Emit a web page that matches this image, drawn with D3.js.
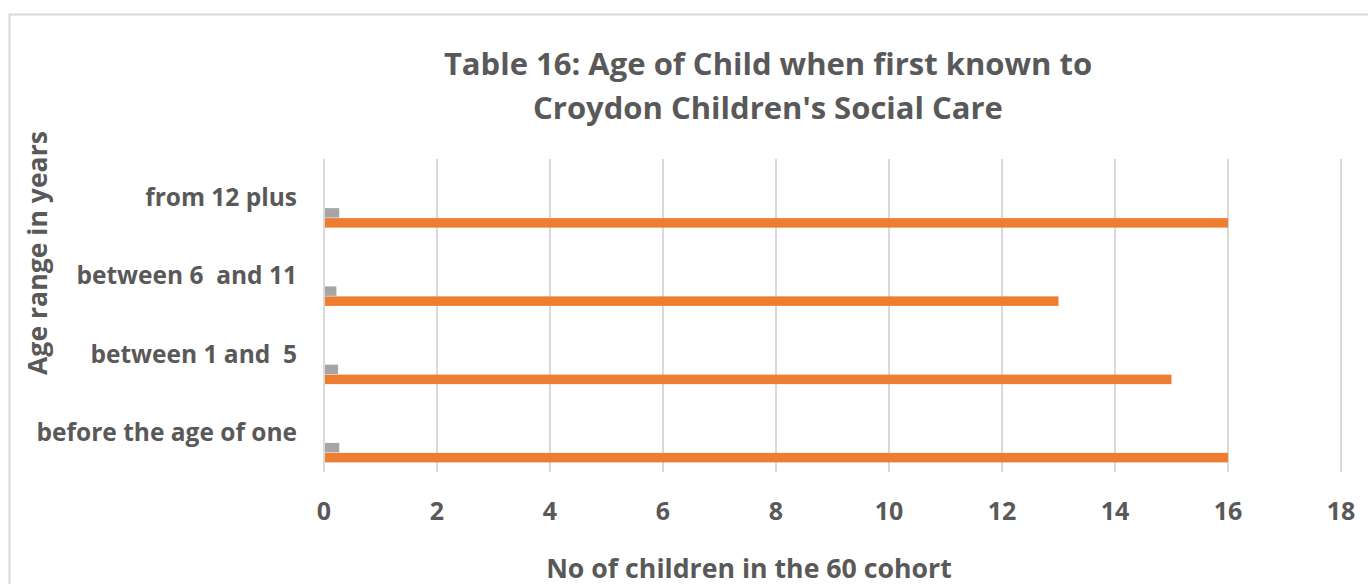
<!DOCTYPE html>
<html><head><meta charset="utf-8">
<script src="https://cdn.jsdelivr.net/npm/d3@7"></script>
<style>body{margin:0;background:#fff}svg{display:block}text{font-family:"Open Sans",sans-serif;font-weight:bold;fill:#595959;white-space:pre}</style>
</head><body>
<svg id="c" width="1368" height="584"></svg>
<script>
const categories = ["from 12 plus", "between 6  and 11", "between 1 and  5", "before the age of one"];
const counts = [16, 13, 15, 16];
const shares = [0.27, 0.22, 0.25, 0.27];
const xTicks = [0, 2, 4, 6, 8, 10, 12, 14, 16, 18];
const titleLines = ["Table 16: Age of Child when first known to", "Croydon Children's Social Care"];
const xTitle = "No of children in the 60 cohort";
const yTitle = "Age range in years";

const svg = d3.select("#c");
// chart frame
svg.append("rect").attr("x", 9.5).attr("y", 14.5).attr("width", 1400).attr("height", 600)
  .attr("fill", "none").attr("stroke", "#d9d9d9").attr("stroke-width", 2);

const plot = {left: 324, right: 1341, top: 159, bottom: 472};
const x = d3.scaleLinear().domain([0, 18]).range([plot.left, plot.right]);
const y0 = d3.scaleBand().domain(categories).range([plot.top, plot.bottom]);
const slots = d3.scaleBand().domain(d3.range(6)).range([0, 60]);
const groupOff = (y0.bandwidth() - 60) / 2;

// gridlines
svg.append("g").selectAll("line").data(xTicks).join("line")
  .attr("x1", d => x(d)).attr("x2", d => x(d))
  .attr("y1", plot.top).attr("y2", plot.bottom)
  .attr("stroke", "#d9d9d9").attr("stroke-width", 2);

// bars
const series = [{vals: shares, slot: 4, color: "#a5a5a5"}, {vals: counts, slot: 5, color: "#ed7d31"}];
series.forEach(s => {
  svg.append("g").selectAll("rect").data(categories).join("rect")
    .attr("x", x(0) + 1)
    .attr("y", (c) => y0(c) + groupOff + slots(s.slot))
    .attr("width", (c, i) => x(s.vals[i]) - x(0) - 1)
    .attr("height", slots.bandwidth() - 0.5)
    .attr("fill", s.color);
});

// x tick labels
svg.append("g").selectAll("text").data(xTicks).join("text")
  .attr("x", d => x(d)).attr("y", 520).attr("text-anchor", "middle")
  .attr("font-size", 25).text(d => d);

// category labels
svg.append("g").selectAll("text").data(categories).join("text")
  .attr("x", 297).attr("y", c => y0(c) + y0.bandwidth() / 2 + 8)
  .attr("text-anchor", "end").attr("font-size", 24.5).text(c => c);

// title
svg.append("g").selectAll("text").data(titleLines).join("text")
  .attr("x", 768).attr("y", (d, i) => 75 + i * 44).attr("text-anchor", "middle")
  .attr("font-size", 31).text(d => d);

svg.append("text").attr("x", 749).attr("y", 578).attr("text-anchor", "middle")
  .attr("font-size", 26.7).text(xTitle);

svg.append("text").attr("transform", "translate(47,253) rotate(-90)").attr("text-anchor", "middle")
  .attr("font-size", 26.6).text(yTitle);
</script>
</body></html>
